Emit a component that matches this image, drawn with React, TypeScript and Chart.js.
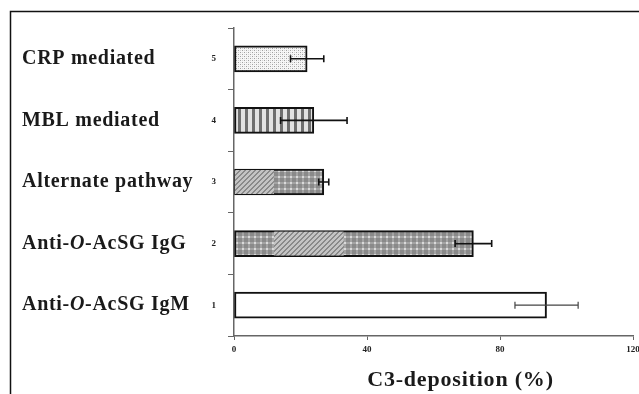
import React, { useEffect, useRef } from 'react';
import { Chart, registerables } from 'chart.js';

Chart.register(...registerables);

// ---- data ----
const categories = ['CRP mediated', 'MBL mediated', 'Alternate pathway', 'Anti-O-AcSG IgG', 'Anti-O-AcSG IgM'];
const axisNumbers = ['5', '4', '3', '2', '1'];
const values = [22, 24, 27, 72, 94];
const errors = [5, 10, 1.5, 5.5, 9.5];
const xTickValues = [0, 40, 80, 120];
const xTitle = 'C3-deposition (%)';
// a diagonally hatched stretch inside some bars (in % units)
const hatchStart: (number | null)[] = [null, null, 0, 12, null];
const hatchEnd: (number | null)[] = [null, null, 12, 33, null];
const fillKinds = ['dots', 'vstripes', 'grid', 'grid', 'white'];

const SERIF = '"Liberation Serif", "Times New Roman", serif';

function makePattern(kind: string): CanvasPattern | string {
  const c = document.createElement('canvas');
  const g = c.getContext('2d')!;
  if (kind === 'dots') {
    c.width = 4; c.height = 4;
    g.fillStyle = '#f6f6f6'; g.fillRect(0, 0, 4, 4);
    g.fillStyle = '#a0a0a0';
    g.fillRect(0, 0, 1, 1); g.fillRect(2, 2, 1, 1);
    g.fillStyle = '#d4d4d4';
    g.fillRect(2, 0, 1, 1); g.fillRect(0, 2, 1, 1);
  } else if (kind === 'vstripes') {
    c.width = 7; c.height = 4;
    g.fillStyle = '#e2e2e2'; g.fillRect(0, 0, 7, 4);
    g.fillStyle = '#6e6e6e'; g.fillRect(0, 0, 3, 4);
  } else if (kind === 'grid') {
    c.width = 6; c.height = 6;
    g.fillStyle = '#8a8a8a'; g.fillRect(0, 0, 6, 6);
    g.fillStyle = '#a4a4a4'; g.fillRect(0, 2, 6, 2); g.fillRect(2, 0, 2, 6);
    g.fillStyle = '#dadada'; g.fillRect(2, 2, 2, 2);
  } else if (kind === 'diag') {
    c.width = 5; c.height = 5;
    g.fillStyle = '#c4c4c4'; g.fillRect(0, 0, 5, 5);
    g.fillStyle = '#8a8a8a';
    for (let i = 0; i < 5; i++) g.fillRect(i % 5, 4 - i, 1, 1);
    for (let i = 0; i < 5; i++) g.fillRect((i + 1) % 5, 4 - i, 1, 1);
  } else {
    return '#ffffff';
  }
  return g.createPattern(c, 'repeat')!;
}

const framePlugin = {
  id: 'frame',
  beforeDraw(chart: any) {
    const ctx = chart.ctx;
    ctx.save();
    ctx.fillStyle = '#ffffff';
    ctx.fillRect(0, 0, chart.width, chart.height);
    ctx.strokeStyle = '#111';
    ctx.lineWidth = 1.5;
    ctx.beginPath();
    ctx.moveTo(10.5, chart.height);
    ctx.lineTo(10.5, 11.5);
    ctx.lineTo(chart.width, 11.5);
    ctx.stroke();
    ctx.restore();
  },
};

const overlayPlugin = {
  id: 'overlay',
  afterDatasetsDraw(chart: any) {
    const ctx = chart.ctx;
    const xs = chart.scales.x;
    const meta = chart.getDatasetMeta(0);
    const diag = makePattern('diag');
    ctx.save();
    meta.data.forEach((el: any, i: number) => {
      const s = hatchStart[i];
      const e = hatchEnd[i];
      if (s === null || e === null) return;
      const x1 = xs.getPixelForValue(s) + (s === 0 ? 1 : 0);
      const x2 = xs.getPixelForValue(e);
      const h = el.height - 2;
      ctx.fillStyle = diag;
      ctx.fillRect(x1, el.y - h / 2, x2 - x1, h);
    });
    // error bars
    meta.data.forEach((el: any, i: number) => {
      const v = values[i];
      const err = errors[i];
      const a = xs.getPixelForValue(v - err);
      const b = xs.getPixelForValue(v + err);
      const y = el.y;
      ctx.strokeStyle = i === 4 ? '#444' : '#111';
      ctx.lineWidth = i === 4 ? 1.2 : 1.6;
      ctx.beginPath();
      ctx.moveTo(a, y); ctx.lineTo(b, y);
      ctx.moveTo(a, y - 3.5); ctx.lineTo(a, y + 3.5);
      ctx.moveTo(b, y - 3.5); ctx.lineTo(b, y + 3.5);
      ctx.stroke();
    });
    ctx.restore();
  },
  afterDraw(chart: any) {
    const ctx = chart.ctx;
    const ys = chart.scales.y;
    const xs = chart.scales.x;
    ctx.save();
    ctx.fillStyle = '#1a1a1a';
    ctx.textBaseline = 'middle';
    ctx.textAlign = 'left';
    (ctx as any).letterSpacing = '0.7px';
    categories.forEach((label, i) => {
      const y = ys.getPixelForValue(i);
      let x = 22;
      const parts = label.split(/(?<=-)O(?=-)/);
      parts.forEach((p, k) => {
        ctx.font = `bold 20px ${SERIF}`;
        ctx.fillText(p, x, y);
        x += ctx.measureText(p).width;
        if (k < parts.length - 1) {
          ctx.font = `italic bold 20px ${SERIF}`;
          ctx.fillText('O', x, y);
          x += ctx.measureText('O').width;
        }
      });
    });
    // x-axis title
    (ctx as any).letterSpacing = '0.8px';
    ctx.font = `bold 22px ${SERIF}`;
    ctx.textAlign = 'center';
    ctx.fillText(xTitle, (xs.left + xs.right) / 2 + 27, xs.bottom - 14);
    ctx.restore();
  },
};

export default function App() {
  const ref = useRef<HTMLCanvasElement | null>(null);
  useEffect(() => {
    document.body.style.margin = '0';
    const canvas = ref.current!;
    const chart = new Chart(canvas, {
      type: 'bar',
      data: {
        labels: categories,
        datasets: [
          {
            data: values,
            backgroundColor: fillKinds.map((k) => makePattern(k)) as any,
            borderColor: '#111',
            borderWidth: 2,
            borderSkipped: false,
            barThickness: 26,
          },
        ],
      },
      options: {
        indexAxis: 'y',
        animation: false,
        responsive: false,
        devicePixelRatio: 1,
        layout: { padding: { top: 28, right: 6, left: 0, bottom: 0 } },
        plugins: { legend: { display: false }, tooltip: { enabled: false } },
        scales: {
          x: {
            type: 'linear',
            min: 0,
            max: 120,
            afterBuildTicks: (scale: any) => {
              scale.ticks = xTickValues.map((v) => ({ value: v }));
            },
            afterFit: (scale: any) => {
              scale.height = 58;
              scale.paddingRight = 0;
              scale.paddingLeft = 0;
            },
            border: { color: '#666', width: 1.5 },
            grid: { drawOnChartArea: false, drawTicks: true, tickLength: 4, color: '#666' },
            ticks: {
              font: { family: SERIF, size: 9, weight: 'bold' },
              color: '#222',
              padding: 4,
              maxRotation: 0,
            },
            title: { display: false },
          },
          y: {
            type: 'category',
            offset: true,
            afterFit: (scale: any) => {
              scale.width = 234;
              scale.paddingTop = 0;
              scale.paddingBottom = 0;
            },
            border: { color: '#666', width: 1.5 },
            grid: { drawOnChartArea: false, drawTicks: true, tickLength: 6, offset: true, color: '#666' },
            ticks: {
              callback: (_v: any, i: number) => axisNumbers[i],
              font: { family: SERIF, size: 9, weight: 'bold' },
              color: '#222',
              padding: 12,
            },
          },
        },
      } as any,
      plugins: [framePlugin, overlayPlugin],
    });
    return () => chart.destroy();
  }, []);
  return <canvas ref={ref} width={639} height={394} style={{ display: 'block', width: 639, height: 394 }} />;
}
